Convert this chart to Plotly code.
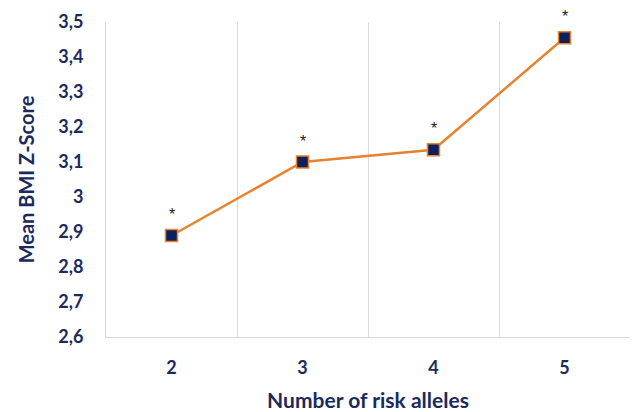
import plotly.graph_objects as go

categories = ["2", "3", "4", "5"]
mean_bmi_z = [2.89, 3.10, 3.135, 3.455]
significance = ["*", "*", "*", "*"]
y_ticks = [2.6, 2.7, 2.8, 2.9, 3.0, 3.1, 3.2, 3.3, 3.4, 3.5]

navy = "#1B2A5E"
orange = "#E8822E"
font_family = "Lato, 'Open Sans', sans-serif"

fig = go.Figure()
fig.add_trace(go.Scatter(
    x=categories, y=mean_bmi_z,
    mode="lines+markers",
    line=dict(color=orange, width=2.5),
    marker=dict(symbol="square", size=12, color="#0D1F5C",
                line=dict(color=orange, width=1.5)),
    hoverinfo="skip",
    showlegend=False,
))

for i, (v, s) in enumerate(zip(mean_bmi_z, significance)):
    fig.add_annotation(x=i, y=v, xref="x", yref="y", text=s, showarrow=False, yshift=21,
                       font=dict(family="Arial, sans-serif", size=16, color="#222222"))

fig.update_layout(
    width=632, height=412,
    margin=dict(l=106, r=2, t=22, b=75, autoexpand=False),
    paper_bgcolor="white", plot_bgcolor="white",
    separators=",.",
    font=dict(family=font_family, color=navy),
)
fig.update_xaxes(
    type="category",
    range=[-0.5, 3.5],
    tickson="boundaries",
    showgrid=True, gridcolor="#D9D9D9", gridwidth=1,
    showline=True, linecolor="#D9D9D9", linewidth=1,
    ticks="", ticklen=0,
    ticklabelstandoff=14,
    tickfont=dict(family=font_family, size=18, color=navy, weight="bold"),
    title=dict(text="Number of risk alleles", standoff=16,
               font=dict(family=font_family, size=21, color=navy, weight="bold")),
    zeroline=False,
    automargin=False,
)
fig.update_yaxes(
    range=[2.6, 3.5],
    tickvals=y_ticks,
    showgrid=False,
    showline=True, linecolor="#D9D9D9", linewidth=1,
    ticks="",
    ticklabelstandoff=18,
    tickfont=dict(family=font_family, size=18, color=navy, weight="bold"),
    title=dict(text="Mean BMI Z-Score", standoff=18,
               font=dict(family=font_family, size=20, color=navy, weight="bold")),
    zeroline=False,
    automargin=False,
)

fig.write_html("out.html",
               config={"displayModeBar": False},
               post_script="document.body.style.margin='0';document.body.style.overflow='hidden';")
